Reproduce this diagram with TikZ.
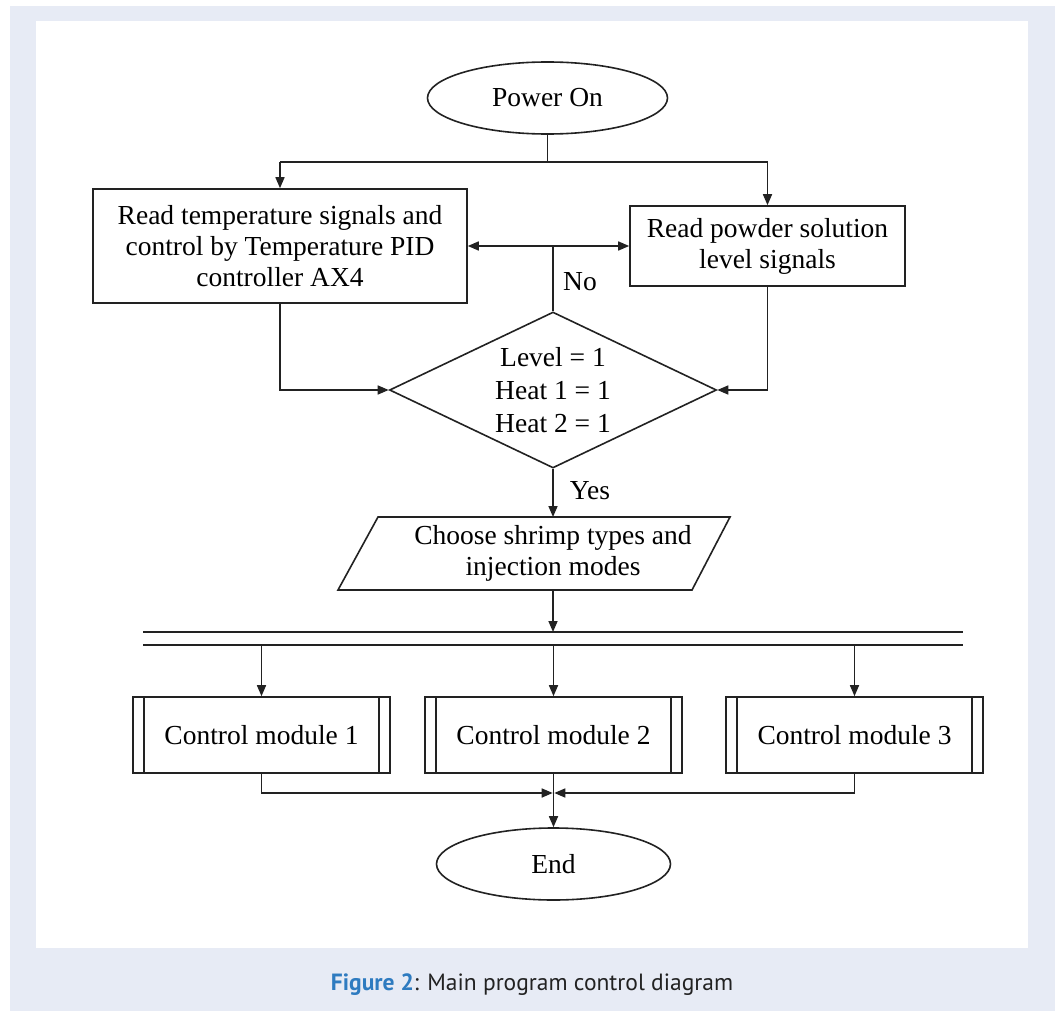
\documentclass[tikz,border=0pt]{standalone}
\usepackage{fontspec}
\setmainfont{Liberation Serif}
\newfontfamily\capfont{PT Sans}
\usetikzlibrary{shapes.geometric,arrows.meta}
\definecolor{panelbg}{HTML}{E7EBF5}
\definecolor{capblue}{HTML}{2E7BC0}
\definecolor{ink}{HTML}{222222}
\tikzset{
  flow/.style={draw=ink, line width=1.6pt},
  arr/.style={flow, -{Triangle[length=11pt,width=9pt]}},
  boxtext/.style={font=\fontsize{27.5}{31}\selectfont, text=black},
  terminal/.style={ellipse, draw=ink, line width=1.6pt, fill=white, inner sep=0pt,
    minimum width=240pt, minimum height=72pt, boxtext},
  procbox/.style={rectangle, draw=ink, line width=1.6pt, fill=white, align=center,
    inner sep=0pt, boxtext},
  decision/.style={diamond, draw=ink, line width=1.6pt, fill=white, align=center,
    inner sep=0pt, shape aspect=2.1, minimum width=327pt, minimum height=156pt,
    font=\fontsize{27.5}{33}\selectfont},
  module/.style={rectangle, draw=ink, line width=1.6pt, fill=white, inner sep=0pt,
    minimum width=257pt, minimum height=76pt, boxtext,
    path picture={
      \draw[ink, line width=1.6pt]
        ([xshift=11pt]path picture bounding box.north west) --
        ([xshift=11pt]path picture bounding box.south west)
        ([xshift=-11pt]path picture bounding box.north east) --
        ([xshift=-11pt]path picture bounding box.south east);
    }},
  tag/.style={boxtext, inner sep=0pt}
}
\begin{document}
\begin{tikzpicture}[x=1pt, y=-1pt]
  \useasboundingbox (0,0) rectangle (1060,1011);
  % page frame and white panel
  \fill[panelbg] (10,6) rectangle (1055,1011);
  \fill[white] (36,21) rectangle (1028,948);

  % start
  \node[terminal] (power) at (547.5,98) {Power On};

  % two reading branches
  \node[procbox, minimum width=374pt, minimum height=114pt] (temp) at (280,246)
    {Read temperature signals and\\control by Temperature PID\\controller AX4};
  \node[procbox, minimum width=275pt, minimum height=80pt] (powder) at (767.5,246)
    {Read powder solution\\level signals};

  \coordinate (splitL) at (280,162);
  \coordinate (splitR) at (767.5,162);
  \draw[flow] (power.south) -- (power.south |- splitL);
  \draw[flow] (splitL) -- (splitR);
  \draw[arr] (splitL) -- (temp.north);
  \draw[arr] (splitR) -- (powder.north);

  % condition check
  \node[decision] (dec) at (553,390) {Level = 1\\Heat 1 = 1\\Heat 2 = 1};
  \coordinate (noJ) at (553,246);
  \draw[flow] (dec.north) -- (noJ);
  \draw[arr] (noJ) -- (temp.east |- noJ);
  \draw[arr] (noJ) -- (powder.west |- noJ);
  \node[tag] (no) at (580,282) {No};
  \draw[arr] (temp.south) |- (dec.west);
  \draw[arr] (powder.south) |- (dec.east);

  % input step
  \draw[flow, fill=white] (378,517) -- (730,517) -- (692,590) -- (338,590) -- cycle;
  \node[tag, align=center] (choose) at (553,553) {Choose shrimp types and\\injection modes};
  \coordinate (chooseIn) at (553,517);
  \coordinate (chooseOut) at (553,590);
  \draw[arr] (dec.south) -- (chooseIn);
  \node[tag] (yes) at (590,491) {Yes};

  % parallel bar
  \coordinate (barTL) at (143,632);
  \coordinate (barTR) at (963,632);
  \coordinate (barBL) at (143,645);
  \coordinate (barBR) at (963,645);
  \draw[flow] (barTL) -- (barTR) (barBL) -- (barBR);
  \draw[arr] (chooseOut) -- (chooseOut |- barTL);

  % control modules
  \node[module] (m1) at (261.5,735) {Control module 1};
  \node[module] (m2) at (553.5,735) {Control module 2};
  \node[module] (m3) at (854.5,735) {Control module 3};
  \draw[arr] (m1.north |- barBL) -- (m1.north);
  \draw[arr] (m2.north |- barBL) -- (m2.north);
  \draw[arr] (m3.north |- barBL) -- (m3.north);

  % end
  \node[terminal, minimum width=234pt] (end) at (553.5,864) {End};
  \coordinate (merge) at (553.5,793);
  \draw[arr] (m1.south) |- ([xshift=-0.8pt]merge);
  \draw[arr] (m3.south) |- ([xshift=0.8pt]merge);
  \draw[arr] (m2.south) -- (end.north);

  % caption
  \node[font=\capfont\fontsize{23.5}{26}\selectfont, text=ink] (cap) at (532,985)
    {\textcolor{capblue}{\bfseries Figure 2}: Main program control diagram};
\end{tikzpicture}
\end{document}
